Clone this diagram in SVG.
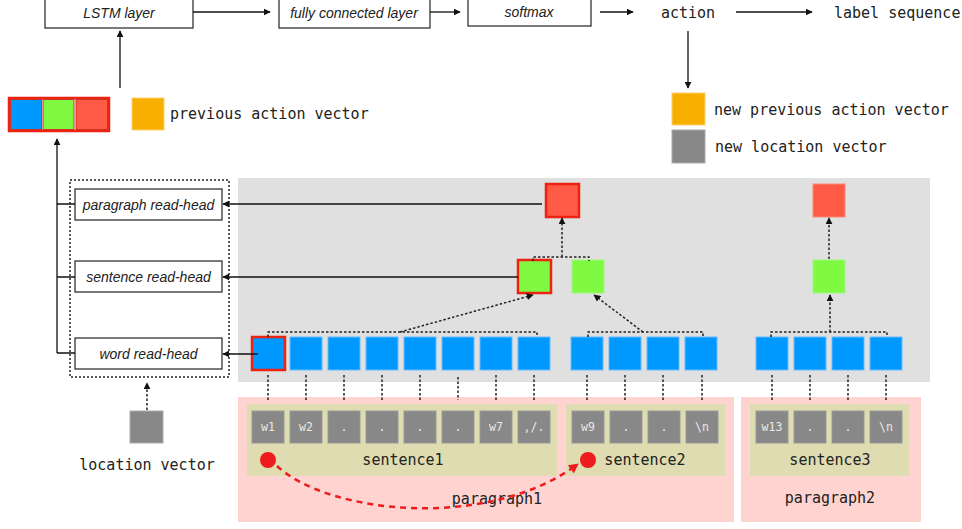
<svg xmlns="http://www.w3.org/2000/svg" width="962" height="529" viewBox="0 0 962 529">
<defs>
<marker id="ah" viewBox="0 0 10 10" refX="9" refY="5" markerWidth="7" markerHeight="7" orient="auto" markerUnits="userSpaceOnUse"><path d="M0,0 L10,5 L0,10 z" fill="#111"/></marker>
<marker id="ahr" viewBox="0 0 10 10" refX="9" refY="5" markerWidth="10" markerHeight="10" orient="auto" markerUnits="userSpaceOnUse"><path d="M0,0 L10,5 L0,10 z" fill="#ee1c1c"/></marker>
<style>
.box{fill:#fff;stroke:#333;stroke-width:1.3}
.it{font-family:"Liberation Sans",Arial,sans-serif;font-style:italic;font-size:14px;fill:#222;text-anchor:middle}
.mono{font-family:"DejaVu Sans Mono",monospace;font-size:15px;fill:#222}
.wl{font-family:"DejaVu Sans Mono",monospace;font-size:11.5px;fill:#e8e8e8;text-anchor:middle}
.ln{stroke:#111;stroke-width:1.3;fill:none}
.dt{stroke:#222;stroke-width:1.5;fill:none;stroke-dasharray:2.5 2}
.blue{fill:#0099ff;stroke:#66bbff;stroke-width:1}
.green{fill:#80f943;stroke:#a0f880;stroke-width:1}
.red{fill:#ff5a45;stroke:#ff8878;stroke-width:1}
.sel{stroke:#ee2211;stroke-width:2.5}
.word{fill:#888;stroke:#999;stroke-width:1}
</style>
</defs>

<!-- backgrounds -->
<rect x="238" y="178" width="692" height="204" fill="#e0e0e0"/>
<rect x="238" y="397" width="496" height="125" fill="#ffd4d0"/>
<rect x="741" y="397" width="180" height="125" fill="#ffd4d0"/>
<rect x="247" y="404" width="310" height="72" fill="#dedcb0"/>
<rect x="566" y="404" width="159" height="72" fill="#dedcb0"/>
<rect x="750" y="404" width="159" height="72" fill="#dedcb0"/>

<g id="lstm"><rect class="box" x="45" y="-3" width="148" height="31"/><text class="it" x="119" y="18">LSTM layer</text></g>
<g id="fc"><rect class="box" x="279" y="-3" width="151" height="31"/><text class="it" x="354" y="18">fully connected layer</text></g>
<g id="softmax"><rect class="box" x="468" y="-3" width="123" height="29"/><text class="it" x="529" y="17">softmax</text></g>
<g id="action"><text class="mono" x="688" y="18" text-anchor="middle">action</text></g>
<g id="label"><text class="mono" x="834" y="18">label sequence</text></g>

<g id="new-prev"><rect x="672" y="93" width="33" height="32" fill="#f8b000" stroke="#fcd070" stroke-width="1"/><text class="mono" x="714" y="115">new previous action vector</text></g>
<g id="new-loc"><rect x="672" y="130" width="33" height="33" fill="#888" stroke="#aaa" stroke-width="1"/><text class="mono" x="715" y="152">new location vector</text></g>

<g id="state">
<rect x="9" y="98" width="100" height="33" fill="none" stroke="#ee2211" stroke-width="2.5"/>
<rect x="10.5" y="99.5" width="31" height="30" fill="#0099ff" stroke="#cc3322" stroke-width="1"/>
<rect x="43" y="99.5" width="31" height="30" fill="#80f943" stroke="#cc3322" stroke-width="1"/>
<rect x="76" y="99.5" width="31.5" height="30" fill="#ff5a45" stroke="#cc3322" stroke-width="1"/>
</g>
<g id="prev-action"><rect x="132" y="98" width="32" height="32" fill="#f8b000" stroke="#fcd070" stroke-width="1"/><text class="mono" x="170" y="119">previous action vector</text></g>

<g id="readheads">
<rect x="70" y="180" width="159" height="197" fill="none" stroke="#222" stroke-width="1.5" stroke-dasharray="2 2"/>
<g id="para-head"><rect class="box" x="75" y="189" width="147" height="31"/><text class="it" x="148.5" y="209.5">paragraph read-head</text></g>
<g id="sent-head"><rect class="box" x="75" y="261" width="147" height="31"/><text class="it" x="148.5" y="282">sentence read-head</text></g>
<g id="word-head"><rect class="box" x="75" y="338" width="147" height="31"/><text class="it" x="148.5" y="359">word read-head</text></g>
</g>

<g id="location"><rect x="130" y="411" width="33" height="32" fill="#888" stroke="#aaa" stroke-width="1"/><text class="mono" x="147" y="470" text-anchor="middle">location vector</text></g>

<!-- hierarchy nodes -->
<g id="para-nodes">
<rect class="red sel" x="546" y="184" width="33" height="33"/>
<rect class="red" x="813" y="184" width="32" height="33"/>
</g>
<g id="sent-nodes">
<rect class="green sel" x="518" y="260" width="33" height="33"/>
<rect class="green" x="572" y="260" width="32" height="33"/>
<rect class="green" x="813" y="260" width="32" height="33"/>
</g>
<g id="word-nodes">
<rect class="blue sel" x="252" y="337" width="33" height="33"/>
<rect class="blue" x="290" y="337" width="32" height="33"/>
<rect class="blue" x="328" y="337" width="32" height="33"/>
<rect class="blue" x="366" y="337" width="32" height="33"/>
<rect class="blue" x="404" y="337" width="32" height="33"/>
<rect class="blue" x="442" y="337" width="32" height="33"/>
<rect class="blue" x="480" y="337" width="32" height="33"/>
<rect class="blue" x="518" y="337" width="32" height="33"/>
<rect class="blue" x="571" y="337" width="32" height="33"/>
<rect class="blue" x="609" y="337" width="32" height="33"/>
<rect class="blue" x="647" y="337" width="32" height="33"/>
<rect class="blue" x="685" y="337" width="32" height="33"/>
<rect class="blue" x="756" y="337" width="32" height="33"/>
<rect class="blue" x="794" y="337" width="32" height="33"/>
<rect class="blue" x="832" y="337" width="32" height="33"/>
<rect class="blue" x="870" y="337" width="32" height="33"/>
</g>

<g id="words">
<rect class="word" x="252" y="411" width="32" height="32"/><text class="wl" x="268" y="431">w1</text>
<rect class="word" x="290" y="411" width="32" height="32"/><text class="wl" x="306" y="431">w2</text>
<rect class="word" x="328" y="411" width="32" height="32"/><text class="wl" x="344" y="431">.</text>
<rect class="word" x="366" y="411" width="32" height="32"/><text class="wl" x="382" y="431">.</text>
<rect class="word" x="404" y="411" width="32" height="32"/><text class="wl" x="420" y="431">.</text>
<rect class="word" x="442" y="411" width="32" height="32"/><text class="wl" x="458" y="431">.</text>
<rect class="word" x="480" y="411" width="32" height="32"/><text class="wl" x="496" y="431">w7</text>
<rect class="word" x="518" y="411" width="32" height="32"/><text class="wl" x="534" y="431">,/.</text>
<rect class="word" x="572" y="411" width="32" height="32"/><text class="wl" x="588" y="431">w9</text>
<rect class="word" x="610" y="411" width="32" height="32"/><text class="wl" x="626" y="431">.</text>
<rect class="word" x="648" y="411" width="32" height="32"/><text class="wl" x="664" y="431">.</text>
<rect class="word" x="686" y="411" width="32" height="32"/><text class="wl" x="702" y="431">\n</text>
<rect class="word" x="756" y="411" width="32" height="32"/><text class="wl" x="772" y="431">w13</text>
<rect class="word" x="794" y="411" width="32" height="32"/><text class="wl" x="810" y="431">.</text>
<rect class="word" x="832" y="411" width="32" height="32"/><text class="wl" x="848" y="431">.</text>
<rect class="word" x="870" y="411" width="32" height="32"/><text class="wl" x="886" y="431">\n</text>
</g>

<g id="labels">
<text class="mono" x="403" y="465" text-anchor="middle">sentence1</text>
<text class="mono" x="645" y="465" text-anchor="middle">sentence2</text>
<text class="mono" x="830" y="465" text-anchor="middle">sentence3</text>
<text class="mono" x="497" y="504" text-anchor="middle">paragraph1</text>
<text class="mono" x="830" y="503" text-anchor="middle">paragraph2</text>
</g>

<g id="dots">
<circle cx="268" cy="460" r="8" fill="#ee1c1c"/>
<circle cx="588" cy="460" r="8" fill="#ee1c1c"/>
</g>

<g id="connectors">
<path class="ln" d="M193 12 H270" marker-end="url(#ah)"/>
<path class="ln" d="M430 12 H460" marker-end="url(#ah)"/>
<path class="ln" d="M600 12 H633" marker-end="url(#ah)"/>
<path class="ln" d="M736 12 H812" marker-end="url(#ah)"/>
<path class="ln" d="M688 31 V88" marker-end="url(#ah)"/>
<path class="ln" d="M120 88 V31" marker-end="url(#ah)"/>
<path class="ln" d="M57 353 V139" marker-end="url(#ah)"/>
<path class="ln" d="M57 204 H75 M57 277 H75 M57 353 H75"/>
<path class="ln" d="M542 204 H223" marker-end="url(#ah)"/>
<path class="ln" d="M518 277 H223" marker-end="url(#ah)"/>
<path class="ln" d="M258 354 H223" marker-end="url(#ah)"/>
<!-- dotted brackets -->
<path class="dt" d="M268 337 V332 H537 V337"/>
<path class="dt" d="M400 332 L533 295" marker-end="url(#ah)"/>
<path class="dt" d="M588 337 V332 H703 V337"/>
<path class="dt" d="M643 332 L594 295" marker-end="url(#ah)"/>
<path class="dt" d="M771 337 V332 H887 V337"/>
<path class="dt" d="M830 332 V295" marker-end="url(#ah)"/>
<path class="dt" d="M533 261 V257 H589 V261"/>
<path class="dt" d="M562 257 V218" marker-end="url(#ah)"/>
<path class="dt" d="M829 259 V218" marker-end="url(#ah)"/>
<path class="dt" d="M147 410 V383" marker-end="url(#ah)"/>
<!-- blue to words -->
<path class="dt" d="M268 375 V400 M306 375 V400 M344 375 V400 M382 375 V400 M420 375 V400 M458 377 V400 M496 375 V400 M534 375 V400 M587 375 V400 M625 375 V400 M663 375 V400 M702 375 V400 M772 375 V400 M810 375 V400 M848 375 V400 M886 375 V400"/>
<!-- red jump -->
<path d="M277 466 C330 515 490 530 578 464" fill="none" stroke="#ee1c1c" stroke-width="2.5" stroke-dasharray="6 5" marker-end="url(#ahr)"/>
</g>
</svg>
